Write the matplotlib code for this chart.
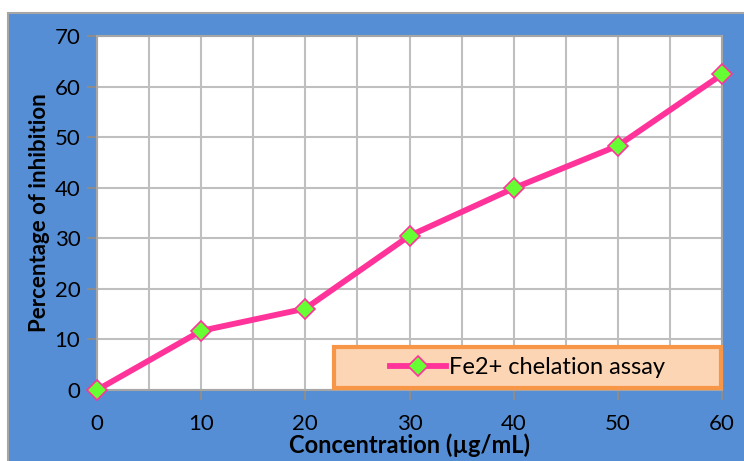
import matplotlib.pyplot as plt
from matplotlib.patches import Rectangle

# data
concentration = [0, 10, 20, 30, 40, 50, 60]
inhibition = [0, 11.7, 16.1, 30.5, 39.9, 48.3, 62.4]
series_name = "Fe2+ chelation assay"

font = "Lato"
blue = "#558ED5"

fig = plt.figure(figsize=(7.44, 4.61), dpi=100)
fig.patch.set_facecolor("white")

# blue chart area with a thin gray border
fig.patches.append(Rectangle((8 / 744, -0.01), 1.0, (461 - 13) / 461 + 0.01,
                             transform=fig.transFigure, facecolor=blue,
                             edgecolor="#A6A6A6", linewidth=1.5, zorder=-10))

ax = fig.add_axes([97 / 744, (461 - 390) / 461, 625 / 744, 354 / 461])
ax.set_facecolor("white")

ax.plot(concentration, inhibition, color="#FF3399", linewidth=4.2,
        marker="D", markersize=10, markerfacecolor="#66FF33",
        markeredgecolor="#FF3399", markeredgewidth=1.2,
        label=series_name, zorder=3, clip_on=False)

ax.set_xlim(0, 60)
ax.set_ylim(0, 70)
ax.set_xticks(range(0, 61, 10))
ax.set_xticks(range(0, 61, 5), minor=True)
ax.set_yticks(range(0, 71, 10))
ax.grid(True, which="both", color="#BFBFBF", linewidth=1.5, zorder=0)
ax.set_axisbelow(True)

for s in ax.spines.values():
    s.set_color("#A6A6A6")
    s.set_linewidth(1.5)

ax.tick_params(axis="both", which="major", direction="out", length=7,
               width=1.5, color="#8C8C8C", labelsize=16, pad=5)
ax.tick_params(axis="x", which="minor", length=0)
ax.tick_params(axis="x", pad=10)
for lab in ax.get_xticklabels() + ax.get_yticklabels():
    lab.set_fontfamily(font)

ax.set_xlabel("Concentration (µg/mL)", fontsize=17, fontweight="bold",
              fontfamily=font, labelpad=0)
ax.set_ylabel("Percentage of inhibition", fontsize=16, fontweight="bold",
              fontfamily=font, labelpad=3)

# legend box (peach fill, orange border)
ax.add_patch(Rectangle((0.379, 0.006), 0.619, 0.115, transform=ax.transAxes,
                       facecolor="#FCD5B5", edgecolor="#F79646", linewidth=3,
                       zorder=4, clip_on=False))
leg = ax.legend(loc="center", bbox_to_anchor=(0.379, 0.006, 0.619, 0.115),
                frameon=False, handlelength=2.4, handletextpad=0.1,
                prop={"family": font, "size": 17})
leg.set_zorder(5)

fig.savefig("out.png", dpi=100, facecolor=fig.get_facecolor())
